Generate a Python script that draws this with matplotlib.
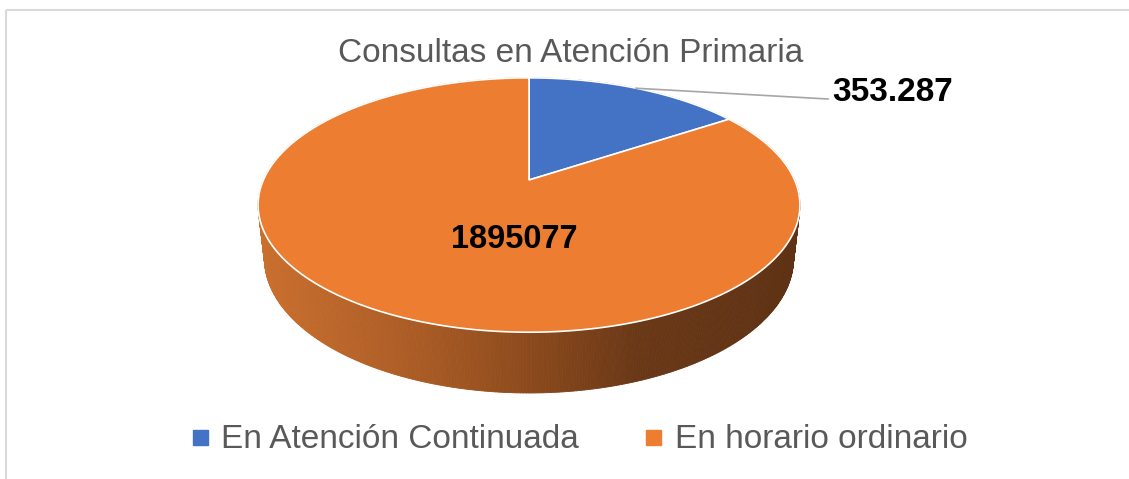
"""
3D pie chart: Consultas en Atención Primaria.
"""

import numpy as np
import matplotlib
matplotlib.use("Agg")
import matplotlib.pyplot as plt
from matplotlib.collections import PolyCollection
from matplotlib.colors import LinearSegmentedColormap
from matplotlib.lines import Line2D
from matplotlib.patches import Polygon, Rectangle

plt.rcParams['font.family'] = ['Liberation Sans', 'DejaVu Sans']

# Data
categories = ['En Atención Continuada', 'En horario ordinario']
values = [353287, 1895077]
value_labels = ['353.287', '1895077']
colors = ['#4472C4', '#ED7D31']
title = 'Consultas en Atención Primaria'

# Projection of the pie disc (unit radius) onto figure pixels
ELEV = np.deg2rad(27.4)
DIST = 4.51
FOCAL = 1198
CX, AY = 529, 180
DEPTH = 0.228


def project(X, Y, Z):
  v = Y * np.sin(ELEV) + Z * np.cos(ELEV)
  w = DIST + Y * np.cos(ELEV) - Z * np.sin(ELEV)
  return CX + FOCAL * X / w, AY - FOCAL * v / w


def rim(theta, z=0.0):
  # theta measured clockwise from the back of the disc
  return project(np.sin(theta), np.cos(theta), z)


W, H = 1129, 479
fig = plt.figure(figsize=(W / 100, H / 100), dpi=100)
ax = fig.add_axes([0, 0, 1, 1])
ax.set_xlim(0, W)
ax.set_ylim(H, 0)
ax.axis('off')

# Chart frame
ax.add_patch(Rectangle((6, 10), W + 20, H + 20, fill=False,
                       edgecolor='#D9D9D9', linewidth=1.5))

# Side wall, shaded left to right
side_cmap = LinearSegmentedColormap.from_list(
  'side', [(0.0, '#CA6F2E'), (0.3, '#A95B25'), (0.5, '#8C4A1C'),
           (0.7, '#6A3817'), (1.0, '#5E3214')])
theta = np.linspace(0, 2 * np.pi, 721)
tx, ty = rim(theta)
bx, by = rim(theta, -DEPTH)
quads, quad_colors = [], []
xmin, xmax = tx.min(), tx.max()
for i in range(len(theta) - 1):
  quads.append([(tx[i], ty[i]), (tx[i + 1], ty[i + 1]),
                (bx[i + 1], by[i + 1]), (bx[i], by[i])])
  mx = (tx[i] + tx[i + 1]) / 2
  quad_colors.append(side_cmap(np.clip((mx - xmin) / (xmax - xmin), 0, 1)))
ax.add_collection(PolyCollection(quads, facecolors=quad_colors,
                                 edgecolors=quad_colors, linewidths=0.6))

# Top face slices
total = sum(values)
fracs = np.array(values) / total
starts = np.concatenate([[0], np.cumsum(fracs)[:-1]]) * 2 * np.pi
ends = np.cumsum(fracs) * 2 * np.pi
apex = project(0, 0, 0)
for s, e, c in zip(starts, ends, colors):
  t = np.linspace(s, e, 400)
  px, py = rim(t)
  pts = np.column_stack([np.concatenate([[apex[0]], px]),
                         np.concatenate([[apex[1]], py])])
  ax.add_patch(Polygon(pts, closed=True, facecolor=c,
                       edgecolor='white', linewidth=1.2))

# Data labels
mid_small = (starts[0] + ends[0]) / 2
lx, ly = rim(mid_small)
ax.plot([lx, 828], [ly, 99], color='#A6A6A6', linewidth=1.2)
ax.text(832, 101, value_labels[0], fontsize=24, fontweight='bold',
        color='black', ha='left', va='baseline')
ax.text(514, 248, value_labels[1], fontsize=23.5, fontweight='bold',
        color='black', ha='center', va='baseline')

# Title
ax.text(571, 62, title, fontsize=24, color='#595959',
        ha='center', va='baseline')

# Legend
handles = [Line2D([], [], linestyle='none', marker='s', markersize=10.8,
                  markerfacecolor=c, markeredgecolor=c) for c in colors]
fig.legend(handles, categories, loc='center', ncol=2,
           bbox_to_anchor=(580 / W, 1 - 440 / H), frameon=False,
           fontsize=24, labelcolor='#595959', handlelength=0.45,
           handletextpad=0.42, columnspacing=2.0, borderpad=0)

plt.savefig('out.png', dpi=100)
plt.close()
